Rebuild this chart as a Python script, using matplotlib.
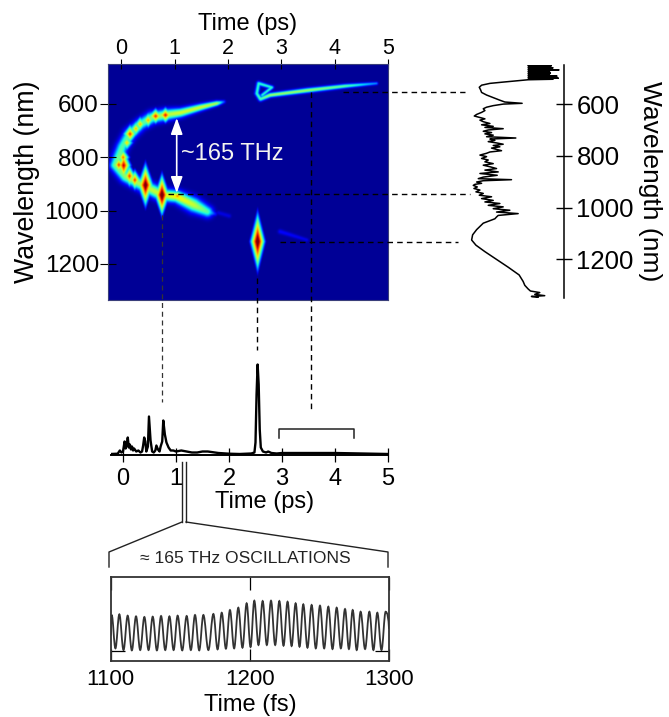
import numpy as np
import matplotlib
matplotlib.use("Agg")
import matplotlib.pyplot as plt
from matplotlib.path import Path
from matplotlib.patches import PathPatch, FancyArrowPatch

plt.rcParams['font.family'] = ['Liberation Sans', 'DejaVu Sans']

W, H = 669, 717
TOP_TICKS = [0, 1, 2, 3, 4, 5]
WL_TICKS = [600, 800, 1000, 1200]
INSET_TICKS = [1100, 1200, 1300]

# spectrogram ridges: time (ps), wavelength (nm), amplitude, half width (px)
arc_t = [1.92, 1.79, 1.48, 1.11, 0.825, 0.575, 0.356, 0.156, 0.012, -0.05, -0.12, 0.075, 0.45, 0.76, 1.04, 1.36, 1.61, 1.75]
arc_wl = [591, 597, 612, 632, 640, 650, 676, 712, 760, 797, 829, 872, 910, 941, 947, 979, 1004, 1012]
arc_amp = [0.20, 0.56, 0.60, 0.60, 0.56, 0.50, 0.44, 0.46, 0.44, 0.48, 0.48, 0.52, 0.56, 0.60, 0.66, 0.58, 0.44, 0.15]
arc_w = [1.2, 1.7, 2.3, 3.0, 3.8, 4.0, 3.8, 4.0, 3.8, 4.0, 3.6, 4.0, 4.2, 4.2, 4.0, 4.8, 3.8, 1.6]
hook_t = [4.79, 4.2, 3.5, 2.79, 2.61, 2.54, 2.575, 2.825, 2.64]
hook_wl = [522, 532, 548, 566, 581, 560, 522, 537, 566]
hook_amp = [0.26, 0.46, 0.54, 0.54, 0.44, 0.40, 0.40, 0.40, 0.40]
hook_w = [1.0, 1.4, 1.6, 1.5, 1.5, 1.4, 1.4, 1.2, 1.1]
faint_t = [2.98, 3.48]
faint_wl = [1079, 1110]
faint2_t = [1.82, 2.02]
faint2_wl = [1008, 1020]
# diamond shaped hot spots: time, wavelength, amplitude, half width (px), half height (px)
spot_t = [2.556, 0.76, 0.45, 0.04, 0.825, 0.64, 0.16, 0.03, 0.35, 0.15, -0.05, 0.25, 0.50, 0.27, 0.10, 1.05]
spot_wl = [1116, 941, 904, 830, 641, 645, 712, 800, 675, 870, 828, 885, 660, 692, 745, 945]
spot_amp = [1.18, 1.20, 1.15, 1.00, 0.95, 0.92, 0.90, 0.84, 0.76, 0.90, 0.90, 0.90, 0.78, 0.76, 0.72, 0.82]
spot_hw = [9, 9, 9.5, 9, 10, 10, 9, 8, 8, 8, 8, 8, 8, 8, 8, 11]
spot_hh = [36, 26, 27, 20, 10, 10, 12, 12, 10, 14, 12, 13, 10, 10, 10, 8]

# single shot spectrum (right panel): wavelength (nm), signal position
spec_wl = [450,452,454,456,458,460,462,464,466,468,470,472,474,476,478,480,482,484,486,488,490,492,494,496,498,500,502,504,506,
 510,515,520,527,535,545,555,565,575,585,592,597,600,606,612,618,625,632,640,646,652,657,662,668,675,680,686,690,695,700,705,
 710,715,720,726,731,735,740,745,750,755,760,765,770,775,780,785,790,797,803,810,816,823,830,836,842,849,855,862,868,875,882,
 888,892,896,901,906,910,914,920,926,932,939,945,952,958,965,972,978,984,991,997,1004,1010,1017,1023,1030,1036,1043,1060,1085,
 1105,1125,1145,1170,1200,1230,1260,1285,1300,1314,1322,1328,1335,1340,1343,1347]
spec_val = [205,275,206,262,205,280,206,255,205,298,206,270,205,250,206,272,205,265,206,270,205,292,206,262,205,296,206,280,205,
 170,130,90,65,58,62,65,80,100,120,135,187,130,100,80,70,75,65,50,43,60,75,60,70,90,65,100,75,130,85,70,
 95,75,100,80,168,90,105,85,110,130,100,120,95,110,125,90,80,60,80,65,85,75,100,70,90,110,75,115,60,112,70,
 55,155,70,50,65,45,40,52,42,60,48,70,58,95,65,100,75,120,85,130,100,150,110,175,115,110,105,70,50,
 38,35,48,75,110,145,178,190,195,205,212,240,225,255,215,235]

# main pulse trace: time (ps), height (px)
trace_t = [-0.23,-0.1,-0.06,-0.03,0.0,0.03,0.05,0.07,0.09,0.11,0.13,0.15,0.17,0.19,0.21,0.25,0.29,0.33,0.36,0.38,0.40,0.42,0.44,0.47,0.49,0.52,0.55,0.58,0.61,0.63,0.66,0.69,0.71,0.74,0.76,0.79,0.82,0.86,0.9,0.95,1.0,1.1,1.2,1.3,1.4,1.5,1.6,1.8,2.0,2.2,2.42,2.48,2.50,2.52,2.54,2.56,2.58,2.60,2.64,2.70,2.74,2.80,2.9,3.0,3.5,4.0,4.5,5.0]
trace_I = [0.5,0.8,4,2,3,13,6,9,17,7,10,5,8,4,6,3,4,2,3,9,17,13,3,8,38,14,3,2,4,9,5,3,8,13,34,20,12,7,4,4,3,4,3,2,2,3,3,1.5,0.8,0.5,1,2,12,60,90,70,25,7,3,2,3,1.5,1,1.5,1.5,1.5,1,0.5]

# zoomed oscillation: extrema time (fs), level
peak_t = [1100.7,1106.2,1112.2,1118.2,1124.2,1130.2,1136.2,1142.2,1148.1,1154.6,1160.6,1166.6,1173.8,1179.8,1185.7,1191.7,1197.7,1203.2,1209.2,1215.2,1221.2,1227.1,1232.9,1238.4,1244.4,1250.4,1256.4,1262.4,1268.4,1273.9,1279.6,1285.9,1291.6,1297.6]
peak_v = [.544,.552,.536,.528,.52,.524,.532,.528,.536,.532,.544,.544,.556,.571,.603,.631,.683,.714,.71,.714,.71,.702,.683,.671,.663,.655,.643,.631,.615,.603,.583,.583,.571,.583]
trough_t = [1103.4,1109.2,1115.2,1121.2,1127.2,1133.2,1139.2,1145.2,1151.4,1157.6,1163.6,1170.2,1176.8,1182.8,1188.7,1194.7,1200.5,1206.2,1212.2,1218.2,1224.2,1230.0,1235.7,1241.4,1247.4,1253.4,1259.4,1265.4,1271.2,1276.8,1282.8,1288.8,1294.6]
trough_v = [.147,.127,.123,.127,.127,.123,.127,.127,.123,.127,.123,.127,.135,.143,.147,.155,.163,.187,.187,.187,.179,.175,.167,.155,.147,.147,.139,.147,.139,.127,.139,.127,.127]


def add_px_axes(x0, y0, x1, y1, **kw):
    return fig.add_axes([x0 / W, 1 - y1 / H, (x1 - x0) / W, (y1 - y0) / H], **kw)


fig = plt.figure(figsize=(W / 100, H / 100), dpi=100)

# --- spectrogram -----------------------------------------------------------
ax = add_px_axes(108, 64, 388, 300)
T0, T1, L0, L1 = -0.25, 5.0, 450, 1335
PT, PL = 53.3, 0.2667
tg = np.linspace(T0, T1, 560)
lg = np.linspace(L0, L1, 472)
X, Y = np.meshgrid(tg * PT, lg * PL)
Z = np.zeros_like(X)


def add_poly(ts, ls, amps, widths):
    global Z
    xs, ys = np.array(ts) * PT, np.array(ls) * PL
    for i in range(len(xs) - 1):
        dx, dy = xs[i + 1] - xs[i], ys[i + 1] - ys[i]
        u = np.clip(((X - xs[i]) * dx + (Y - ys[i]) * dy) / (dx * dx + dy * dy), 0, 1)
        d2 = (X - xs[i] - u * dx) ** 2 + (Y - ys[i] - u * dy) ** 2
        a = amps[i] + u * (amps[i + 1] - amps[i])
        w = widths[i] + u * (widths[i + 1] - widths[i])
        Z = np.maximum(Z, a * np.exp(-d2 / (2 * w * w)))


add_poly(arc_t, arc_wl, arc_amp, arc_w)
add_poly(hook_t, hook_wl, hook_amp, hook_w)
add_poly(faint_t, faint_wl, [0.10, 0.08], [1.6, 1.2])
add_poly(faint2_t, faint2_wl, [0.07, 0.07], [1.5, 1.5])
for t, l, a, hw, hh in zip(spot_t, spot_wl, spot_amp, spot_hw, spot_hh):
    r = np.abs(X - t * PT) / hw + np.abs(Y - l * PL) / hh
    Z = np.maximum(Z, a * np.clip(1 - r, 0, 1))

ax.imshow(Z, extent=[T0, T1, L1, L0], cmap='jet', vmin=-0.02, vmax=1.0,
          aspect='auto', interpolation='bicubic')
ax.set_xlim(T0, T1)
ax.set_ylim(L1, L0)
ax.xaxis.tick_top()
ax.xaxis.set_label_position('top')
ax.set_xticks(TOP_TICKS)
ax.set_yticks(WL_TICKS)
ax.tick_params(axis='x', direction='inout', length=7, width=0.8, labelsize=15.5, pad=0)
ax.tick_params(axis='y', direction='inout', length=11, width=0.8, labelsize=17.5, pad=1)
ax.set_xlabel('Time (ps)', fontsize=17, labelpad=6)
ax.set_ylabel('Wavelength (nm)', fontsize=19.3, labelpad=3)
for s in ax.spines.values():
    s.set_color('#3a3f7a')
    s.set_linewidth(0.8)

# --- spectrum --------------------------------------------------------------
axs = add_px_axes(460, 65, 564, 298)
axs.plot(spec_val, spec_wl, color='black', lw=1.1)
axs.set_xlim(0, 313)
axs.set_ylim(1349, 449)
axs.patch.set_alpha(0)
for k in ['top', 'left', 'bottom']:
    axs.spines[k].set_visible(False)
axs.spines['right'].set_linewidth(1.1)
axs.set_xticks([])
axs.yaxis.tick_right()
axs.set_yticks(WL_TICKS)
axs.tick_params(axis='y', direction='inout', length=12, width=1.0, labelsize=18.5, pad=3)
fig.text(650 / W, 1 - 181 / H, 'Wavelength (nm)', rotation=270, fontsize=19,
         ha='center', va='center')

# --- trace -----------------------------------------------------------------
axt = add_px_axes(110.7, 360, 388, 454.5)
axt.plot(trace_t, trace_I, color='black', lw=1.7, solid_joinstyle='round')
axt.set_xlim(-0.232, 5)
axt.set_ylim(0, 94.5)
axt.patch.set_alpha(0)
for k in ['top', 'left', 'right']:
    axt.spines[k].set_visible(False)
axt.spines['bottom'].set_linewidth(1.4)
axt.set_yticks([])
axt.set_xticks(TOP_TICKS)
axt.tick_params(axis='x', direction='inout', length=10, width=0.9, labelsize=17, pad=5)
axt.set_xlabel('Time (ps)', fontsize=17)
axt.xaxis.set_label_coords(0.555, -0.39)
axt.plot([2.94, 2.94, 4.36, 4.36], [17, 26, 26, 17], color='#222222', lw=1.1)

# --- oscillation inset -----------------------------------------------------
axi = add_px_axes(110.7, 576.7, 389, 660.7)
vx, vy = [], []
for i, (pt, pv) in enumerate(zip(peak_t, peak_v)):
    vx.append(pt); vy.append(pv)
    if i < len(trough_t):
        vx.append(trough_t[i]); vy.append(trough_v[i])
verts = [(1100, 0.30)]
codes = [Path.MOVETO]
verts += [(1100.3, peak_v[0]), (vx[0], vy[0])]
codes += [Path.CURVE3, Path.CURVE3]
for i in range(len(vx) - 1):
    dx = (vx[i + 1] - vx[i]) * 0.37
    verts += [(vx[i] + dx, vy[i]), (vx[i + 1] - dx, vy[i + 1]), (vx[i + 1], vy[i + 1])]
    codes += [Path.CURVE4] * 3
verts += [(1299.5, peak_v[-1]), (1300, 0.38)]
codes += [Path.CURVE3, Path.CURVE3]
axi.add_patch(PathPatch(Path(verts, codes), fill=False, edgecolor='#333333', lw=1.3, clip_on=True))
axi.set_xlim(1100, 1300)
axi.set_ylim(0, 1)
axi.set_xticks(INSET_TICKS)
axi.set_yticks([0.12])
axi.set_yticklabels([])
axi.tick_params(axis='x', direction='in', length=9, width=0.9, top=True, labelsize=16, pad=6)
axi.tick_params(axis='y', direction='in', length=10, width=0.9, right=True)
axi.set_xlabel('Time (fs)', fontsize=17, labelpad=3)
for s in axi.spines.values():
    s.set_linewidth(1.3)
    s.set_color('#333333')

# --- guide lines in figure pixels -----------------------------------------
ov = fig.add_axes([0, 0, 1, 1], zorder=10)
ov.set_xlim(0, W)
ov.set_ylim(H, 0)
ov.axis('off')
dash = dict(color='black', lw=1.0, ls=(0, (4, 3)))
ov.plot([343, 465], [92, 92], **dash)
ov.plot([168, 470], [194, 194], **dash)
ov.plot([280, 458], [242, 242], **dash)
ov.plot([162, 162], [215, 402], color='#333333', lw=0.9, ls=(0, (4, 3)))
ov.plot([257, 257], [278, 350], **dash)
ov.plot([311, 311], [92, 412], **dash)
ov.plot([182, 182], [462, 522], color='#222222', lw=1.0)
ov.plot([186, 186], [462, 522], color='#222222', lw=1.0)
ov.plot([109, 109, 182], [567, 552, 522], color='#222222', lw=1.0)
ov.plot([186, 388, 388], [522, 552, 567], color='#222222', lw=1.0)
ov.text(245, 558.5, '≈ 165 THz OSCILLATIONS', fontsize=12.6, ha='center', va='center', color='#222222')
ov.add_patch(FancyArrowPatch((176.7, 118), (176.7, 193), arrowstyle='<|-|>,head_length=0.55,head_width=0.2',
                             mutation_scale=18, color='white', lw=1.2, shrinkA=0, shrinkB=0))
ov.text(181, 154.5, '~165 THz', fontsize=17, color='#f4f4f0', ha='left', va='center')

fig.savefig('out.png', dpi=100)
